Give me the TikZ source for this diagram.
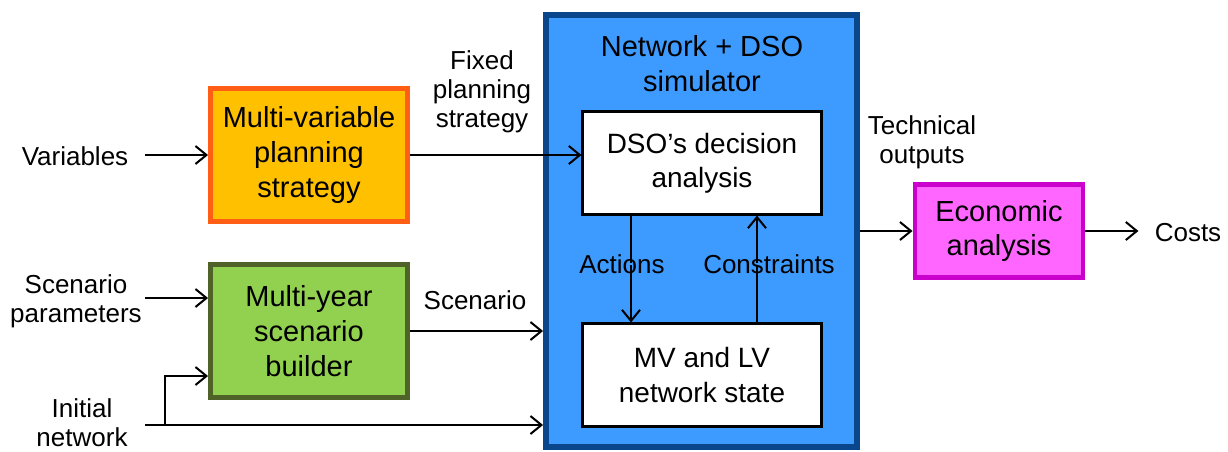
\documentclass[tikz,border=0pt]{standalone}
\usepackage{fontspec}
\setmainfont{Liberation Sans}
\usepackage{tikz}
\usetikzlibrary{positioning}
\usetikzlibrary{arrows.meta}
\definecolor{stratfill}{RGB}{255,192,0}
\definecolor{stratdraw}{RGB}{255,94,20}
\definecolor{buildfill}{RGB}{146,208,80}
\definecolor{builddraw}{RGB}{79,98,40}
\definecolor{simfill}{RGB}{61,155,255}
\definecolor{simdraw}{RGB}{10,70,140}
\definecolor{econfill}{RGB}{255,102,255}
\definecolor{econdraw}{RGB}{204,0,204}

\begin{document}
\begin{tikzpicture}[x=0.02cm, y=-0.02cm,
						>={Straight Barb[length=2.2mm,width=3.6mm]},
						font={\fontsize{14.8}{16.5}\selectfont},
						blocknode/.style={rectangle, draw, line width=2.8pt, inner sep=0pt, align=center, font={\fontsize{16.5}{19.9}\selectfont}},
						innernode/.style={rectangle, draw=black, fill=white, line width=1.2pt, inner sep=0pt, minimum width=4.78cm, minimum height=2.06cm, align=center, font={\fontsize{15.9}{19.6}\selectfont}},
						textnode/.style={align=center, inner sep=0pt},
						conn/.style={line width=1.15pt},
						]
						\useasboundingbox (0,0) rectangle (1228,451);
						%Nodes
						\node[blocknode, fill=simfill, draw=simdraw, line width=3.4pt, minimum width=6.22cm, minimum height=8.64cm] (sim) at (701.5,231) {};
						\node[textnode, font={\fontsize{16.5}{19.9}\selectfont}] (simtitle) at (702,64) {Network + DSO\\simulator};
						\node[innernode] (dec) at (702,163) {DSO’s decision\\analysis};
						\node[innernode] (state) at (702,375) {MV and LV\\network state};
						\node[blocknode, fill=stratfill, draw=stratdraw, minimum width=3.94cm, minimum height=2.66cm] (strat) at (309,155) {Multi-variable\\planning\\strategy};
						\node[blocknode, fill=buildfill, draw=builddraw, minimum width=3.94cm, minimum height=2.66cm] (build) at (309,331) {Multi-year\\scenario\\builder};
						\node[blocknode, fill=econfill, draw=econdraw, minimum width=3.36cm, minimum height=1.86cm] (econ) at (999,231) {Economic\\analysis};

						\node[textnode] (var) at (75,156) {Variables};
						\node[textnode] (par) at (76,301) {Scenario\\parameters};
						\node[textnode] (init) at (82,423) {Initial\\network};
						\node[textnode] (fixed) at (482,92) {Fixed\\planning\\strategy};
						\node[textnode] (scen) at (475,300) {Scenario};
						\node[textnode] (act) at (622,264) {Actions};
						\node[textnode] (con) at (769,264) {Constraints};
						\node[textnode] (tech) at (922,142) {Technical\\outputs};
						\node[textnode] (cost) at (1188,233) {Costs};

						\coordinate (initout) at (145,425);
						\coordinate (branch) at (165,425);
						\coordinate (buildin) at (165,376);
						\coordinate (actx) at (631,0);
						\coordinate (conx) at (757,0);

						%Lines
						\draw[conn,->] (strat.west) ++(-1.26cm,0) -- (strat.west);
						\draw[conn,->] (build.west |- 0,298) ++(-1.26cm,0) -- (build.west |- 0,298);
						\draw[conn,->] (initout) -- (initout -| sim.west);
						\draw[conn,->] (branch) -- (buildin) -- (buildin -| build.west);

						\draw[conn,->] (strat.east |- 0,155) -- (dec.west |- 0,155);
						\draw[conn,->] (build.east) -- (build.east -| sim.west);

						\draw[conn] (dec.south -| actx) -- ([yshift=-5pt]act.north -| actx);
						\draw[conn,->] ([yshift=5pt]act.south -| actx) -- (state.north -| actx);
						\draw[conn] (state.north -| conx) -- ([yshift=5pt]con.south -| conx);
						\draw[conn,->] ([yshift=-5pt]con.north -| conx) -- (dec.south -| conx);

						\draw[conn,->] (sim.east |- econ.west) -- (econ.west);
						\draw[conn,->] (econ.east) -- ++(1.06cm,0);
					\end{tikzpicture}
\end{document}
